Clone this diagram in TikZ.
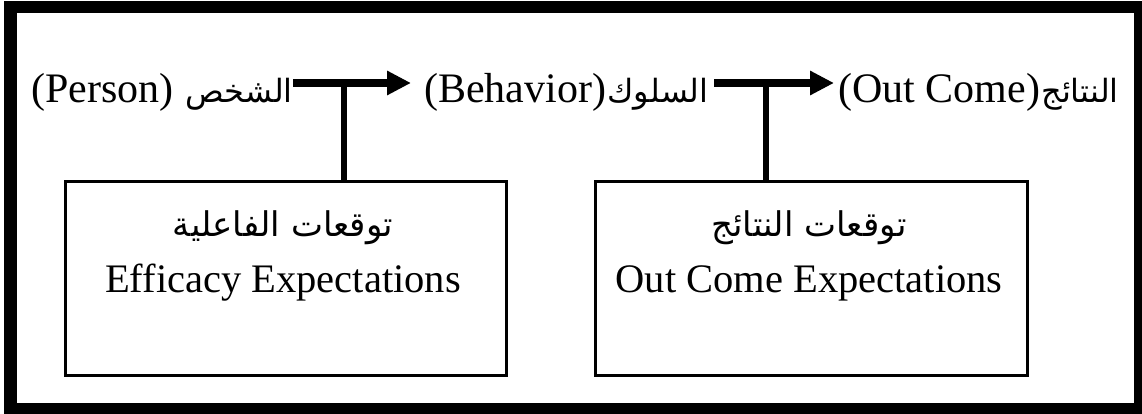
\documentclass[tikz,border=0pt]{standalone}
\usepackage{fontspec}
\setmainfont{Liberation Serif}
\newfontfamily\arabicfont[Script=Arabic]{DejaVu Sans}
\TeXXeTstate=1
\usetikzlibrary{arrows.meta}
\begin{document}
\begin{tikzpicture}[x=1pt,y=-1pt,
  txt/.style={inner sep=0pt,font=\fontsize{42}{48}\selectfont},
  btxt/.style={inner sep=0pt,font=\fontsize{40.5}{48}\selectfont},
  atxt/.style={inner sep=0pt,font=\fontsize{32}{38}\selectfont\arabicfont},
  batxt/.style={inner sep=0pt,font=\fontsize{34}{40}\selectfont\arabicfont},
  flow/.style={line width=8pt,-{Triangle[length=24pt,width=23pt]}},
  stem/.style={line width=6pt},
  expbox/.style={draw,line width=3pt,minimum height=193pt,inner sep=0pt}]
\useasboundingbox (0,0) rectangle (1142,414);
\draw[line width=12.5pt] (10.5,7) rectangle (1140,409);
% top row
\node[txt,anchor=base west] (person) at (31,103) {(Person)};
\node[atxt,anchor=base east] (shakhs) at (293,103) {\beginR الشخص\endR};
\node[txt,anchor=base west] (behavior) at (424,103) {(Behavior)};
\node[atxt,anchor=base west] (suluk) at ([xshift=1pt]behavior.base east) {\beginR السلوك\endR};
\node[txt,anchor=base west] (outcome) at (838,103) {(Out Come)};
\node[atxt,anchor=base west] (nataij) at ([xshift=1pt]outcome.base east) {\beginR النتائج\endR};
\coordinate (a1s) at (293,83);
\coordinate (a1e) at (411,83);
\coordinate (a2s) at (714,83);
\coordinate (a2e) at (834,83);
\draw[flow] (a1s) -- (a1e);
\draw[flow] (a2s) -- (a2e);
% boxes
\node[expbox,minimum width=441pt] (eff) at (285.5,278.5) {};
\node[expbox,minimum width=432pt] (oce) at (811,278.5) {};
\node[batxt,anchor=base] (effar) at (283,236) {\beginR توقعات الفاعلية\endR};
\node[btxt,anchor=base] (effen) at (283,292) {Efficacy Expectations};
\node[batxt,anchor=base] (ocear) at (809,236) {\beginR توقعات النتائج\endR};
\node[btxt,anchor=base] (oceen) at (809,292) {Out Come Expectations};
% stems
\coordinate (s1) at (344,83);
\coordinate (s2) at (766,83);
\draw[stem] (s1) -- (s1 |- eff.north);
\draw[stem] (s2) -- (s2 |- oce.north);
\end{tikzpicture}
\end{document}
